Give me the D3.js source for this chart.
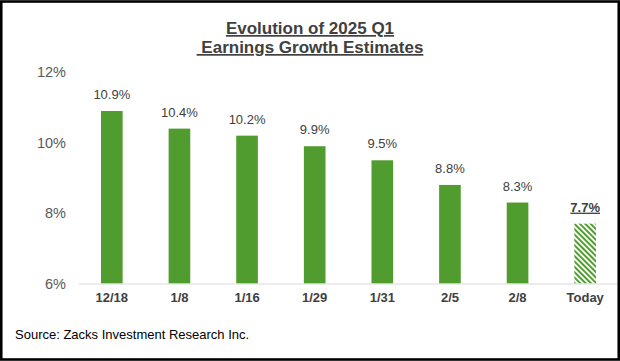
<!DOCTYPE html>
<html>
<head>
<meta charset="utf-8">
<script src="https://cdn.jsdelivr.net/npm/d3@7"></script>
<style>
  html, body { margin: 0; padding: 0; background: #fff; }
  svg { display: block; font-family: "Liberation Sans", Arial, sans-serif; }
</style>
</head>
<body>
<svg id="chart" width="620" height="361"></svg>
<script>
const categories = ["12/18", "1/8", "1/16", "1/29", "1/31", "2/5", "2/8", "Today"];
const values = [10.9, 10.4, 10.2, 9.9, 9.5, 8.8, 8.3, 7.7];
const valueLabels = ["10.9%", "10.4%", "10.2%", "9.9%", "9.5%", "8.8%", "8.3%", "7.7%"];
const yTicks = [6, 8, 10, 12];
const yTickLabels = ["6%", "8%", "10%", "12%"];
const titleLines = ["Evolution of 2025 Q1", "\u00a0Earnings Growth Estimates"];
const sourceText = "Source: Zacks Investment Research Inc.";

const svg = d3.select("#chart");
const W = 620, H = 361;
const green = "#519c2f";
const textDark = "#404040";

// pattern for today's bar
const defs = svg.append("defs");
const pat = defs.append("pattern")
  .attr("id", "hatch")
  .attr("patternUnits", "userSpaceOnUse")
  .attr("width", 3.8).attr("height", 4)
  .attr("patternTransform", "rotate(-45)");
pat.append("rect").attr("width", 3.8).attr("height", 4).attr("fill", "#fff");
pat.append("rect").attr("x", 0).attr("y", 0).attr("width", 2).attr("height", 4).attr("fill", green);

svg.append("rect").attr("x", 0).attr("y", 0).attr("width", W).attr("height", H).attr("fill", "#fff");

const x = d3.scaleBand().domain(categories).range([78, 619]).paddingInner(0.68).paddingOuter(0.34);
const y = d3.scaleLinear().domain([6, 12]).range([283.5, 72.3]);

// title
const title = svg.append("g");
title.selectAll("text").data(titleLines).join("text")
  .attr("x", 310)
  .attr("y", (d, i) => 34 + i * 19)
  .attr("text-anchor", "middle")
  .attr("font-size", 17)
  .attr("font-weight", "bold")
  .attr("fill", textDark)
  .attr("text-decoration", "underline")
  .style("white-space", "pre")
  .text(d => d);

// y axis (labels only)
const yAxis = d3.axisLeft(y).tickValues(yTicks).tickSize(0).tickPadding(0)
  .tickFormat((d, i) => yTickLabels[i]);
const yg = svg.append("g").attr("transform", "translate(66,0)").call(yAxis);
yg.select(".domain").remove();
yg.selectAll("text").attr("font-size", 14.5).attr("fill", "#595959")
  .attr("font-family", "Liberation Sans, Arial, sans-serif");

// bars
const data = categories.map((c, i) => ({c, v: values[i], label: valueLabels[i]}));
svg.append("g").selectAll("rect").data(data).join("rect")
  .attr("x", d => x(d.c))
  .attr("y", d => y(d.v))
  .attr("width", x.bandwidth())
  .attr("height", d => y(6) - y(d.v))
  .attr("fill", d => d.c === "Today" ? "url(#hatch)" : green);

// value labels
svg.append("g").selectAll("text").data(data).join("text")
  .attr("x", d => x(d.c) + x.bandwidth() / 2)
  .attr("y", d => y(d.v) - 12)
  .attr("text-anchor", "middle")
  .attr("font-size", 13)
  .attr("fill", textDark)
  .attr("font-weight", d => d.c === "Today" ? "bold" : "normal")
  .attr("text-decoration", d => d.c === "Today" ? "underline" : "none")
  .text(d => d.label);

// x axis
const xAxis = d3.axisBottom(x).tickSize(0).tickPadding(9);
const xg = svg.append("g").attr("transform", `translate(0,${y(6)})`).call(xAxis);
xg.select(".domain").attr("stroke", "#d9d9d9").attr("stroke-width", 1.2);
xg.selectAll("text").attr("font-size", 13).attr("font-weight", "bold").attr("fill", textDark)
  .attr("font-family", "Liberation Sans, Arial, sans-serif");

// source
svg.append("text").attr("x", 15).attr("y", 339)
  .attr("font-size", 13).attr("fill", "#000").text(sourceText);

// frame
svg.append("rect").attr("x", 1.25).attr("y", 1.5).attr("width", W - 2.5).attr("height", H - 3)
  .attr("fill", "none").attr("stroke", "#000").attr("stroke-width", 2.6);
</script>
</body>
</html>
